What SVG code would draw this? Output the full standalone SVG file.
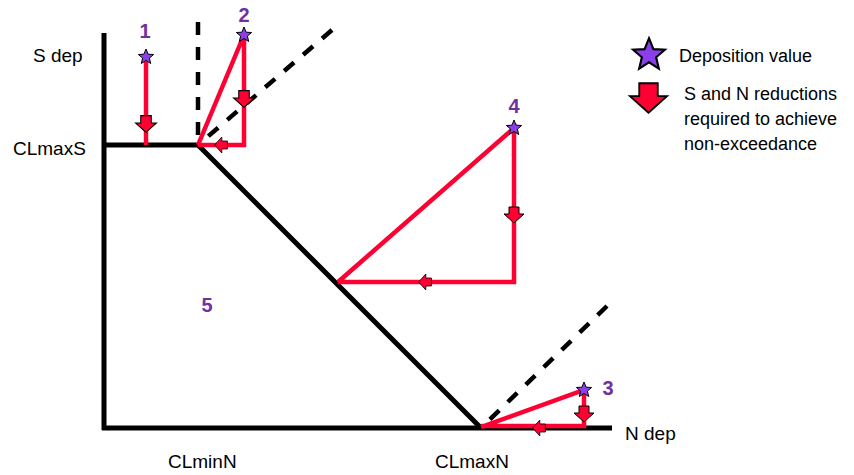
<svg xmlns="http://www.w3.org/2000/svg" xmlns:xlink="http://www.w3.org/1999/xlink" width="854" height="475" viewBox="0 0 854 475">
<style>
.ax{stroke:#000;stroke-width:5;fill:none}
.dash{stroke:#000;stroke-width:4.5;fill:none;stroke-dasharray:13,12}
.red{stroke:#FF0033;stroke-width:4.5;fill:none;stroke-linejoin:miter}
.lbl{font-family:"Liberation Sans",Arial,sans-serif;font-size:19px;fill:#000}
.leg{font-family:"Liberation Sans",Arial,sans-serif;font-size:18px;fill:#000}
.num{font-family:"Liberation Sans",Arial,sans-serif;font-size:20px;font-weight:bold;fill:#7030A0;text-anchor:middle}
</style>
<defs>
<path id="star" d="M0,-8 L2.1,-2.8 L7.6,-2.5 L3.4,1.1 L4.7,6.5 L0,3.5 L-4.7,6.5 L-3.4,1.1 L-7.6,-2.5 L-2.1,-2.8 Z" fill="#8B3FE8" stroke="#000" stroke-width="1"/>
<path id="arr" d="M-5,-8 H5 V-1 H10 L0,8 L-10,-1 H-5 Z" fill="#FF0033" stroke="#000" stroke-width="1"/>
</defs>
<g id="connectors">
<line class="ax" x1="104" y1="33" x2="104" y2="430"/>
<line class="ax" x1="102" y1="428" x2="612" y2="428"/>
<polyline class="ax" points="104,145 198,145 481,428"/>
<line class="dash" x1="198" y1="22" x2="198" y2="145"/>
<line class="dash" x1="332" y1="30" x2="198" y2="145"/>
<line class="dash" x1="607" y1="306" x2="481" y2="428"/>
<line class="red" x1="146" y1="57" x2="146" y2="145"/>
<polyline class="red" points="198,145 244,35 244,145 198,145"/>
<polyline class="red" points="338,282 514,128 514,282 338,282"/>
<polyline class="red" points="481,427 584,390 584,426 481,426"/>
</g>
<g id="arrows">
<use xlink:href="#arr" transform="translate(146,124) scale(1.05)"/>
<use xlink:href="#arr" transform="translate(244,99) scale(1.05)"/>
<use xlink:href="#arr" transform="translate(221,145) rotate(90) scale(0.8)"/>
<use xlink:href="#arr" transform="translate(514,215)"/>
<use xlink:href="#arr" transform="translate(425,282) rotate(90) scale(0.8)"/>
<use xlink:href="#arr" transform="translate(584,414)"/>
<use xlink:href="#arr" transform="translate(539,428) rotate(90) scale(0.8)"/>
</g>
<g id="node1"><use xlink:href="#star" transform="translate(146,57)"/><text class="num" x="145" y="38">1</text></g>
<g id="node2"><use xlink:href="#star" transform="translate(244,35)"/><text class="num" x="244" y="22">2</text></g>
<g id="node3"><use xlink:href="#star" transform="translate(584,390)"/><text class="num" x="608" y="395">3</text></g>
<g id="node4"><use xlink:href="#star" transform="translate(514,128)"/><text class="num" x="514" y="113">4</text></g>
<g id="node5"><text class="num" x="207" y="312">5</text></g>
<g id="axis-labels">
<text class="lbl" x="33" y="62">S dep</text>
<text class="lbl" x="13" y="155">CLmaxS</text>
<text class="lbl" x="168" y="468" font-size="20">CLminN</text>
<text class="lbl" x="435" y="468" font-size="20">CLmaxN</text>
<text class="lbl" x="625" y="440" font-size="20">N dep</text>
</g>
<g id="legend">
<use xlink:href="#star" transform="translate(649,55) scale(2.1)"/>
<text class="leg" x="679" y="62">Deposition value</text>
<use xlink:href="#arr" transform="translate(648.5,98) scale(1.85)"/>
<text class="leg" x="684" y="100">S and N reductions</text>
<text class="leg" x="684" y="125">required to achieve</text>
<text class="leg" x="684" y="150">non-exceedance</text>
</g>
</svg>
